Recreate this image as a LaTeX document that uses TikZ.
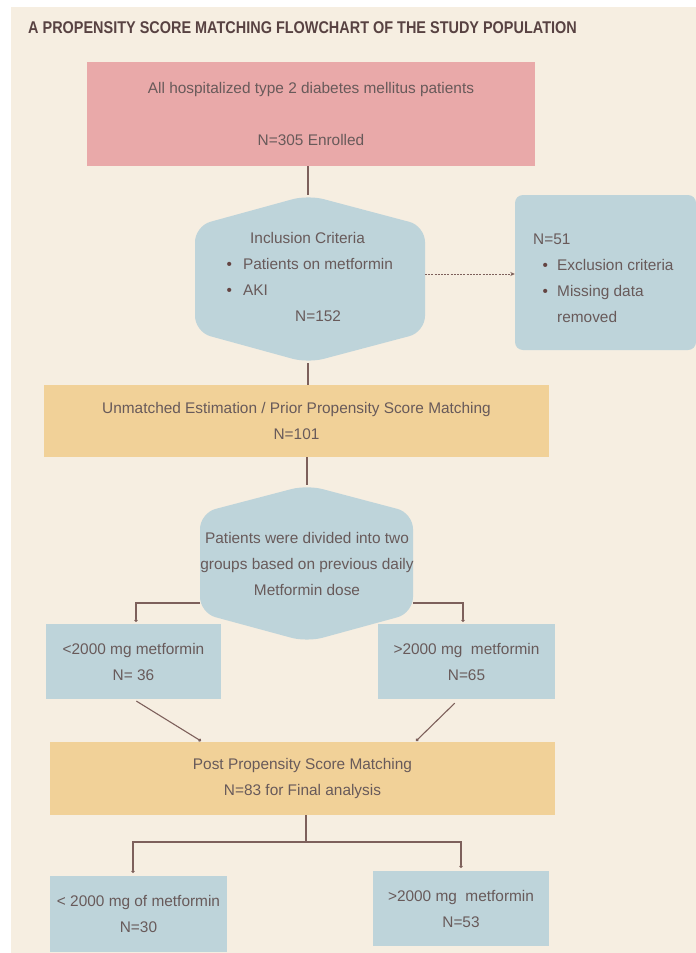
\documentclass[tikz,border=0pt]{standalone}
\usepackage{fontspec}
\usepackage{xcolor}
\usepackage{tikz}
\usetikzlibrary{arrows.meta}
\setmainfont{Liberation Sans}
\newfontfamily\titlefont[FakeStretch=0.85]{Liberation Sans}

\definecolor{bgColor}{RGB}{246,238,225}
\definecolor{pinkColor}{RGB}{233,169,169}
\definecolor{blueColor}{RGB}{190,212,218}
\definecolor{orangeColor}{RGB}{241,209,152}
\definecolor{lineColor}{RGB}{125,96,91}
\definecolor{textColor}{RGB}{104,90,90}
\definecolor{titleColor}{RGB}{88,66,66}
\definecolor{dotColor}{RGB}{100,68,66}

\newcommand{\bul}{\textcolor{dotColor}{\textbullet}}

\tikzset{
  boxtxt/.style={text=textColor,font=\fontsize{15.4}{26}\selectfont,align=center,inner sep=0pt},
  pinkbox/.style={boxtxt,fill=pinkColor},
  bluebox/.style={boxtxt,fill=blueColor},
  orangebox/.style={boxtxt,fill=orangeColor},
  conn/.style={draw=lineColor,line width=1.1pt},
  dotconn/.style={conn,-{Circle[length=3.2pt]}}
}

\begin{document}
\begin{tikzpicture}[x=1pt,y=-1pt]
\definecolor{fillColor}{RGB}{255,255,255}
\path[use as bounding box,fill=fillColor] (0,0) rectangle (696,953);
\path[fill=bgColor] (11,7) rectangle (696,953);

% title
\node[anchor=west,inner sep=0pt,text=titleColor,font=\titlefont\bfseries\fontsize{17}{20}\selectfont] (title) at (28,28) {A PROPENSITY SCORE MATCHING FLOWCHART OF THE STUDY POPULATION};

% boxes
\node[pinkbox,minimum width=448pt,minimum height=104pt] (enrol) at (311,114) {All hospitalized type 2 diabetes mellitus patients\\[26pt]N=305 Enrolled};

\path[fill=blueColor,rounded corners=16pt] (195,279) -- (195,226) -- (308,195) -- (425,226) -- (425,332) -- (308,363) -- (195,332) -- cycle;
\coordinate (hexAtop) at (308,195);
\coordinate (hexAbot) at (308,363);
\coordinate (hexAright) at (425,274);
\node[boxtxt,align=left,anchor=west] (incl) at (226.5,276.5) {\hspace*{23.5pt}Inclusion Criteria\\\bul\hspace{11pt}Patients on metformin\\\bul\hspace{11pt}AKI\\\hspace*{68.5pt}N=152};

\node[bluebox,minimum width=181pt,minimum height=155pt,rounded corners=8pt] (excl) at (605.5,272.5) {};
\node[boxtxt,align=left,anchor=west] (exclTxt) at (533,278) {N=51\\\hspace*{9.3pt}\bul\hspace{9.3pt}Exclusion criteria\\\hspace*{9.3pt}\bul\hspace{9.3pt}Missing data\\\hspace*{24pt}removed};

\node[orangebox,minimum width=505pt,minimum height=72pt] (unmatched) at (296.5,421) {Unmatched Estimation / Prior Propensity Score Matching\\N=101};

\path[fill=blueColor,rounded corners=16pt] (200,563) -- (200,513) -- (307,485) -- (413,513) -- (413,613) -- (307,642) -- (200,613) -- cycle;
\coordinate (hexBtop) at (307,485);
\coordinate (hexBleft) at (200,603);
\coordinate (hexBright) at (413,603);
\node[boxtxt] (divide) at (307,564) {Patients were divided into two\\groups based on previous daily\\Metformin dose};

\node[bluebox,minimum width=175pt,minimum height=75pt] (lowA) at (133.5,661.5) {<2000 mg metformin\\N= 36};
\node[bluebox,minimum width=177pt,minimum height=75pt] (highA) at (466.5,661.5) {>2000 mg~~metformin\\N=65};

\node[orangebox,minimum width=505pt,minimum height=73pt] (post) at (302.5,778.5) {Post Propensity Score Matching\\N=83 for Final analysis};

\node[bluebox,minimum width=177pt,minimum height=76pt] (lowB) at (138.5,914) {< 2000 mg of metformin\\N=30};
\node[bluebox,minimum width=176pt,minimum height=75pt] (highB) at (461,908.5) {>2000 mg~~metformin\\N=53};

% connectors
\coordinate (dropA1) at (136,622);
\coordinate (dropA2) at (463,622);
\coordinate (postL) at (201,741);
\coordinate (postR) at (416,741);
\coordinate (split) at (306,842);
\coordinate (dropB1) at (133,873);
\coordinate (dropB2) at (461,868);

\path[conn] (enrol.south -| hexAtop) -- (hexAtop);
\path[conn,line width=1pt,dash pattern=on 2pt off 1.2pt,-{Stealth[length=4.5pt,width=4pt]}] (hexAright) -- (hexAright -| excl.west);
\path[conn] (hexAbot) -- (hexAbot |- unmatched.north);
\path[conn] (unmatched.south -| hexBtop) -- (hexBtop);
\path[dotconn] (hexBleft) -| (dropA1);
\path[dotconn] (hexBright) -| (dropA2);
\path[dotconn,shorten <=4pt] (133,699) -- (postL);
\path[dotconn,shorten <=6pt] (459,699) -- (postR);
\path[conn] (post.south -| split) -- (split);
\path[dotconn] (split) -| (dropB1);
\path[dotconn] (split) -| (dropB2);
\end{tikzpicture}
\end{document}
